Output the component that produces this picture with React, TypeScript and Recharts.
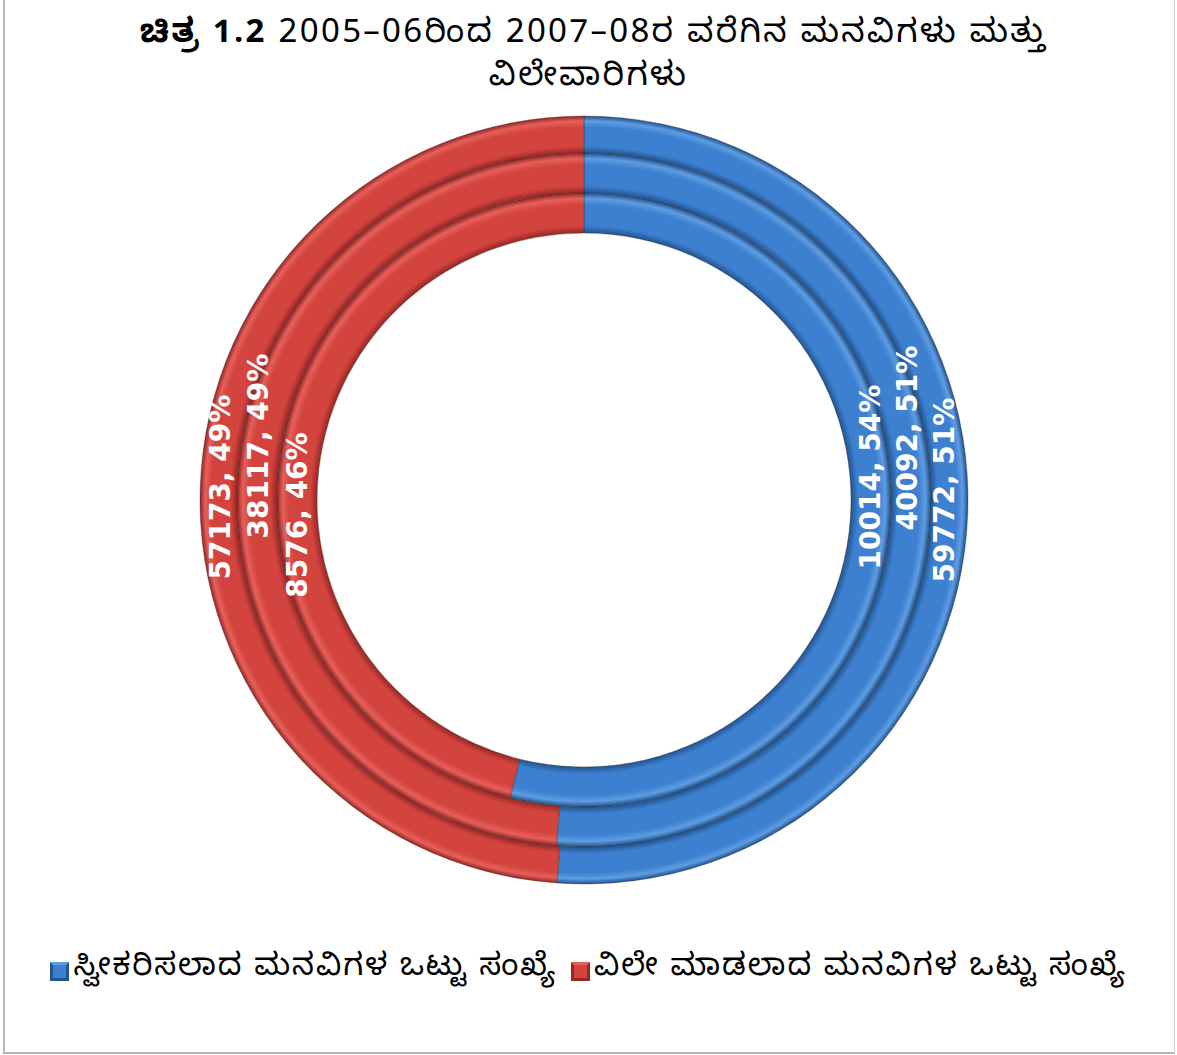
import React from 'react';
import { PieChart, Pie, Cell, Legend } from 'recharts';

// ---- data ----
const seriesNames = ['ಸ್ವೀಕರಿಸಲಾದ ಮನವಿಗಳ ಒಟ್ಟು ಸಂಖ್ಯೆ', 'ವಿಲೇ ಮಾಡಲಾದ ಮನವಿಗಳ ಒಟ್ಟು ಸಂಖ್ಯೆ'];
const ringNames = ['ಒಳ', 'ಮಧ್ಯ', 'ಹೊರ']; // inner -> outer
const acceptedValues = [10014, 40092, 59772];
const disposedValues = [8576, 38117, 57173];
const titleBold = 'ಚಿತ್ರ 1.2';
const titleRest = ' 2005–06ರಿಂದ 2007–08ರ ವರೆಗಿನ ಮನವಿಗಳು ಮತ್ತು';
const titleLine2 = 'ವಿಲೇವಾರಿಗಳು';

// ---- layout ----
const W = 1177;
const H = 1055;
const CX = 584;
const CY = 500;
const RADII: [number, number][] = [
  [267, 307],
  [307, 347],
  [347, 384],
];
// vertical nudges for the rotated labels [blue, red], per ring
const LABEL_DY: [number, number][] = [
  [-23, 15],
  [-62, -54],
  [-10, -13],
];
// horizontal nudges (towards centre) for the rotated labels [blue, red], per ring
const LABEL_DX: [number, number][] = [
  [-1, 0],
  [-4, -1],
  [-5, -2],
];

const KN_FONT = "'Noto Sans Kannada', 'Tunga', 'Noto Sans', 'DejaVu Sans', sans-serif";
const LABEL_FONT = "'DejaVu Sans', Verdana, sans-serif";

const COLORS = {
  blue: { dark: '#23548f', base: '#3d80d0', light: '#5e9de2' },
  red: { dark: '#962826', base: '#d4443f', light: '#e6605a' },
};

function gradStops(c: { dark: string; base: string; light: string }) {
  const stops: React.ReactNode[] = [];
  const R = RADII[2][1];
  RADII.forEach(([r0, r1], i) => {
    const w = r1 - r0;
    const f = (r: number) => `${((r / R) * 100).toFixed(3)}%`;
    stops.push(<stop key={`${i}a`} offset={f(r0 + 0.2)} stopColor={c.dark} />);
    stops.push(<stop key={`${i}b`} offset={f(r0 + 0.18 * w)} stopColor={c.base} />);
    stops.push(<stop key={`${i}c`} offset={f(r0 + 0.7 * w)} stopColor={c.base} />);
    stops.push(<stop key={`${i}d`} offset={f(r0 + 0.86 * w)} stopColor={c.light} />);
    stops.push(<stop key={`${i}e`} offset={f(r1 - 0.2)} stopColor={c.dark} />);
  });
  return stops;
}

function makeLabel(ring: number) {
  return (props: any) => {
    const { cx, innerRadius, outerRadius, value, percent, index } = props;
    const rMid = (innerRadius + outerRadius) / 2 + LABEL_DX[ring][index];
    const x = index === 0 ? cx + rMid : cx - rMid;
    const y = CY + LABEL_DY[ring][index];
    const pct = Math.round(percent * 100);
    return (
      <text
        key={`lbl-${ring}-${index}`}
        x={x}
        y={y}
        transform={`rotate(-90 ${x} ${y})`}
        textAnchor="middle"
        dominantBaseline="central"
        fill="#ffffff"
        fontFamily={LABEL_FONT}
        fontWeight="bold"
        fontSize={28}
      >
        {`${value}, ${pct}%`}
      </text>
    );
  };
}

function LegendContent() {
  const items = [
    { name: seriesNames[0], c: COLORS.blue },
    { name: seriesNames[1], c: COLORS.red },
  ];
  return (
    <div
      style={{
        display: 'flex',
        justifyContent: 'center',
        alignItems: 'center',
        fontFamily: KN_FONT,
        fontSize: 31,
        letterSpacing: 1.9,
        color: '#000',
        gap: 14,
      }}
    >
      {items.map((it, i) => (
        <div key={i} style={{ display: 'flex', alignItems: 'center', gap: 4 }}>
          <svg width={19} height={19}>
            <rect x={0} y={0} width={19} height={19} fill={it.c.dark} />
            <rect x={3} y={3} width={13} height={13} fill={it.c.base} />
            <polygon points="0,0 19,0 16,3 3,3" fill={it.c.light} />
          </svg>
          <span>{it.name}</span>
        </div>
      ))}
    </div>
  );
}

export default function App() {
  return (
    <div
      style={{
        position: 'absolute',
        left: 0,
        top: 0,
        width: W,
        height: H,
        background: '#ffffff',
        overflow: 'hidden',
      }}
    >
      <div
        style={{
          position: 'absolute',
          left: 3,
          top: -4,
          width: W - 5,
          height: H + 3,
          borderLeft: '2px solid #b4b4b4',
          borderBottom: '2px solid #b4b4b4',
          borderRight: '1px solid #d0d0d0',
          boxSizing: 'border-box',
        }}
      />
      <div
        style={{
          position: 'absolute',
          left: 0,
          top: 16,
          width: W,
          textAlign: 'center',
          fontFamily: KN_FONT,
          fontSize: 33,
          letterSpacing: 2.3,
          lineHeight: '43px',
          color: '#000',
        }}
      >
        <div style={{ paddingLeft: 10 }}>
          <b>{titleBold}</b>
          {titleRest}
        </div>
        <div>{titleLine2}</div>
      </div>
      <div style={{ position: 'absolute', left: 0, top: 0 }}>
        <PieChart width={W} height={H} margin={{ top: 0, right: 0, bottom: 0, left: 0 }}>
          <defs>
            <radialGradient id="gBlue" gradientUnits="userSpaceOnUse" cx={CX} cy={CY} r={RADII[2][1]}>
              {gradStops(COLORS.blue)}
            </radialGradient>
            <radialGradient id="gRed" gradientUnits="userSpaceOnUse" cx={CX} cy={CY} r={RADII[2][1]}>
              {gradStops(COLORS.red)}
            </radialGradient>
          </defs>
          {RADII.map(([ir, or], ring) => (
            <Pie
              key={ring}
              name={ringNames[ring]}
              data={[
                { name: seriesNames[0], value: acceptedValues[ring] },
                { name: seriesNames[1], value: disposedValues[ring] },
              ]}
              dataKey="value"
              nameKey="name"
              cx={CX}
              cy={CY}
              innerRadius={ir}
              outerRadius={or}
              startAngle={90}
              endAngle={-270}
              stroke="rgba(40,40,40,0.35)"
              strokeWidth={1}
              labelLine={false}
              label={makeLabel(ring)}
              isAnimationActive={false}
            >
              <Cell fill="url(#gBlue)" />
              <Cell fill="url(#gRed)" />
            </Pie>
          ))}
          <Legend
            verticalAlign="bottom"
            content={() => <LegendContent />}
            wrapperStyle={{ position: 'absolute', left: 0, top: 950, width: W, bottom: 'auto' }}
          />
        </PieChart>
      </div>
    </div>
  );
}
